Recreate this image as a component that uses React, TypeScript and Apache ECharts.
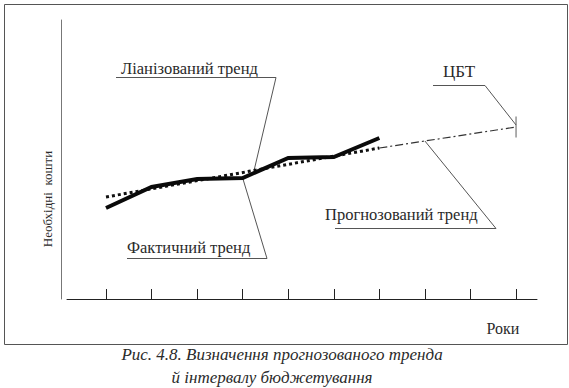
import React, { useEffect, useRef } from "react";
import * as echarts from "echarts";

// Years on the horizontal axis (ticks only, no labels)
const years = [0, 1, 2, 3, 4, 5, 6, 7, 8, 9];

// Actual trend (thick solid line)
const actualX = [0, 1, 2, 3, 4, 5, 6];
const actualY = [91, 112, 120, 121, 141, 142, 161];

// Linear trend (dotted)
const linearX = [0, 6];
const linearY = [102, 151];

// Forecast trend (dash-dot)
const forecastX = [6, 9];
const forecastY = [151, 172];

// Target budget value (ЦБТ)
const targetX = [9];
const targetY = [172];

const yAxisTitle = "Необхідні  кошти";
const xAxisTitle = "Роки";
const labelLinear = "Ліанізований тренд";
const labelActual = "Фактичний тренд";
const labelForecast = "Прогнозований тренд";
const labelTarget = "ЦБТ";
const captionLine1 = "Рис. 4.8. Визначення прогнозованого тренда";
const captionLine2 = "й інтервалу бюджетування";

const zip = (xs: number[], ys: number[]) => xs.map((x, i) => [x, ys[i]]);

const SERIF = "Liberation Serif";

export default function App() {
  const ref = useRef<HTMLDivElement>(null);

  useEffect(() => {
    if (!ref.current) return;
    const chart = echarts.init(ref.current, null, { renderer: "svg" });
    chart.setOption({
      animation: false,
      backgroundColor: "#ffffff",
      grid: { left: 67, right: 32, top: 20, bottom: 89 },
      xAxis: {
        type: "value",
        min: -0.856,
        max: 9.46,
        axisLine: { show: true, onZero: false, lineStyle: { color: "#222", width: 1 } },
        axisTick: {
          show: true,
          inside: true,
          length: 10,
          customValues: years,
          lineStyle: { color: "#222", width: 1 },
        },
        axisLabel: { show: false },
        splitLine: { show: false },
      },
      yAxis: {
        type: "value",
        min: 0,
        max: 279,
        offset: 6,
        axisLine: { show: true, onZero: false, lineStyle: { color: "#777", width: 1 } },
        axisTick: { show: false },
        axisLabel: { show: false },
        splitLine: { show: false },
      },
      series: [
        {
          type: "line",
          data: zip(linearX, linearY),
          showSymbol: false,
          lineStyle: { color: "#111", width: 3, type: [3, 3], cap: "butt" },
          z: 3,
        },
        {
          type: "line",
          data: zip(actualX, actualY),
          showSymbol: false,
          lineStyle: { color: "#0a0a0a", width: 4, cap: "butt", join: "miter" },
          z: 4,
        },
        {
          type: "line",
          data: zip(forecastX, forecastY),
          showSymbol: false,
          lineStyle: { color: "#333", width: 1.2, type: [8, 3, 2, 3] },
          z: 3,
        },
        {
          type: "scatter",
          data: zip(targetX, targetY),
          symbol: "rect",
          symbolSize: [1.2, 21],
          itemStyle: { color: "#555" },
          z: 5,
        },
      ],
    });

    const px = (x: number, y: number) =>
      chart.convertToPixel({ gridIndex: 0 }, [x, y]) as number[];
    const lerp = (xs: number[], ys: number[], x: number) =>
      ys[0] + ((x - xs[0]) * (ys[1] - ys[0])) / (xs[1] - xs[0]);

    const pLinear = px(3.25, lerp(linearX, linearY, 3.25));
    const pActual = px(actualX[3], actualY[3]);
    const pForecast = px(7, lerp(forecastX, forecastY, 7));
    const pTarget = px(targetX[0], targetY[0]);

    const leader = (pts: number[][]) => ({
      type: "polyline",
      shape: { points: pts },
      style: { stroke: "#555", lineWidth: 1, fill: "none" },
      silent: true,
    });
    const txt = (
      text: string,
      x: number,
      y: number,
      size: number,
      align: string = "left",
      extra: any = {}
    ) => ({
      type: "text",
      x,
      y,
      style: {
        text,
        fontFamily: SERIF,
        fontSize: size,
        fontStyle: extra.italic ? "italic" : "normal",
        fill: "#2a2a2a",
        align,
        verticalAlign: "middle",
      },
      ...(extra.rotation ? { rotation: extra.rotation } : {}),
      silent: true,
    });

    chart.setOption({
      graphic: [
        {
          type: "rect",
          shape: { x: 4.5, y: 4.5, width: 563, height: 340 },
          style: { fill: "none", stroke: "#555", lineWidth: 1 },
          silent: true,
        },
        txt(yAxisTitle, 47, 199, 13, "center", { rotation: Math.PI / 2 }),
        txt(xAxisTitle, 503, 328, 16, "center"),
        txt(labelLinear, 121, 68, 16.5),
        leader([[116, 77.5], [276, 77.5], pLinear]),
        txt(labelActual, 127, 247, 16.5),
        leader([[127, 258.5], [267, 258.5], pActual]),
        txt(labelForecast, 325, 214, 16.5),
        leader([[335, 228.5], [496, 228.5], pForecast]),
        txt(labelTarget, 459, 71, 17, "center"),
        leader([[433, 85.5], [485, 85.5], [pTarget[0], pTarget[1] - 2]]),
        txt(captionLine1, 282, 354, 17, "center", { italic: true }),
        txt(captionLine2, 272, 377, 17, "center", { italic: true }),
      ],
    });

    return () => chart.dispose();
  }, []);

  return (
    <div
      ref={ref}
      style={{
        position: "absolute",
        left: 0,
        top: 0,
        width: 569,
        height: 388,
        background: "#fff",
      }}
    />
  );
}
